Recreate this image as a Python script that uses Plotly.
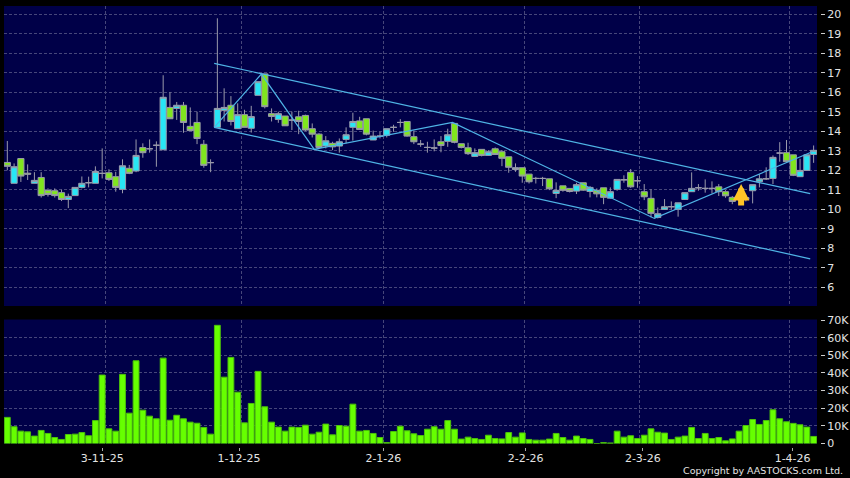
import plotly.graph_objects as go

sessions = list(range(120))
opens = [12.40,11.33,12.6,11.85,11.33,11.63,10.97,10.95,10.85,10.5,10.7,11.12,11.36,11.33,11.84,11.87,11.67,11.02,12.1,11.96,13.16,13.1,13.28,13.05,15.22,15.17,15.33,14.25,14.45,13.33,12.39,14.2,15.07,15.33,14.13,14.85,14.15,15.84,16.94,14.9,14.6,
 14.78,14.57,14.74,14.81,14.13,13.85,13.24,13.38,13.24,13.58,14.2,14.53,14.64,13.55,13.75,13.79,14.2,14.45,14.5,13.72,13.34,13.17,13.14,13.46,13.48,14.4,13.36,13.15,12.71,13.07,12.76,13.1,12.95,12.69,12.04,12.13,11.8,11.58,11.58,11.56,10.81,11.2,
 11.07,10.93,11.36,10.91,10.97,11.1,10.57,11.02,11.51,11.89,11.46,10.9,10.56,9.58,9.99,10.13,9.99,10.5,10.9,11.1,11.07,11.07,11.15,10.9,10.61,10.5,10.5,10.95,11.41,11.56,11.58,12.88,12.9,12.79,11.67,11.99,12.81]
closes = [12.2,12.18,11.7,11.8,11.48,10.7,10.76,10.7,10.5,10.66,11.12,11.33,11.36,11.94,11.84,11.53,11.12,12.23,11.84,12.76,12.9,13.1,13.28,15.74,14.64,15.33,14.45,14.03,13.63,12.25,12.39,15.17,15.22,14.5,14.85,14.2,14.75,16.54,15.26,14.76,14.9,
 14.28,14.57,14.5,14.06,13.85,13.17,13.51,13.2,13.46,13.82,14.5,14.09,13.85,13.75,13.75,14.13,14.2,14.45,13.75,13.46,13.34,13.17,13.14,13.27,13.82,13.43,13.17,12.85,12.9,12.76,12.95,12.81,12.61,12.15,12.13,11.7,11.41,11.58,11.58,11.05,10.97,10.97,
 10.91,11.26,10.98,11.12,10.79,10.61,10.9,11.53,11.51,11.15,11.46,10.64,9.79,9.77,10.13,10.13,10.33,10.85,11.07,11.1,11.07,11.07,10.9,10.69,10.4,10.5,10.6,11.26,11.56,11.56,12.66,12.88,12.44,11.74,11.99,12.79,13.02]
highs = [13.5,12.35,12.6,12.3,11.9,11.9,11.07,11.07,11.0,10.8,11.12,11.68,11.67,12.2,13.12,12.05,11.92,12.56,12.27,13.58,13.38,13.58,13.48,16.87,16.0,15.5,15.5,15.22,15.0,13.55,12.56,19.79,16.2,15.8,15.43,15.1,15.3,16.54,16.94,15.17,15.0,
 14.78,15.0,15.05,14.85,14.4,13.9,13.75,13.46,13.63,14.2,14.95,14.74,14.64,14.03,13.97,14.13,14.33,14.62,14.5,14.03,13.55,13.46,13.58,13.75,14.13,14.4,13.36,13.41,13.12,13.07,13.03,13.17,13.03,12.69,12.35,12.13,11.8,11.66,11.66,11.56,11.38,11.2,
 11.07,11.36,11.36,11.19,11.07,11.1,11.12,11.53,11.74,12.06,11.7,11.29,11.02,10.09,10.52,10.4,10.33,10.85,11.89,11.29,11.53,11.43,11.29,10.98,10.68,10.6,10.7,11.26,11.8,12.15,12.76,13.44,13.55,12.79,12.59,12.79,13.27]
lows = [12.0,11.33,11.4,11.5,11.33,10.6,10.65,10.6,10.42,10.06,10.7,11.07,11.12,11.33,11.58,11.45,10.9,10.82,11.8,11.9,12.64,12.9,12.18,13.05,14.64,14.58,13.92,14.03,13.34,12.13,11.9,14.2,14.5,14.3,14.13,14.2,13.93,15.84,15.17,14.5,14.43,
 14.28,14.06,13.85,14.0,13.68,13.12,13.12,13.03,12.9,13.38,13.52,14.09,13.79,13.55,13.63,13.68,13.97,14.2,13.72,13.34,13.2,12.9,12.97,12.92,13.2,13.38,13.12,12.78,12.69,12.71,12.74,12.78,12.21,11.87,11.92,11.36,11.32,11.32,11.19,10.98,10.57,10.9,
 10.86,10.78,10.95,10.61,10.61,10.26,10.54,10.95,11.36,11.1,11.1,10.47,9.58,9.53,9.99,9.99,9.62,10.5,10.9,10.95,10.85,10.81,10.68,10.59,10.26,10.4,10.4,10.3,11.12,11.5,11.29,12.44,12.38,11.7,11.67,11.99,12.38]
volumes = [14.8,9.5,7,6.6,4.2,7.4,5.7,3.4,2.3,5.1,5.3,6.2,4.4,13,38.8,8.3,7,39.2,17.2,46.9,18.9,15.5,14,48.4,13.2,16,14,12.1,11.5,9.1,5.3,67,37.6,48.8,29.1,11.7,22.7,40.9,20.8,12.1,9.3,
 7,9.3,9.1,10.4,5.3,6.4,11,4.9,10.2,9.8,22.3,7,7.4,5.7,3.4,0.5,6.8,9.8,7.2,5.5,4.5,8.1,9.5,8.1,13,8.1,2.5,3.6,2.8,2.3,4.7,2.8,2.6,6.2,3.6,6,2.3,1.9,1.9,2.5,5.7,3.4,
 1.9,4.2,2.8,2.3,0,0.5,0.3,7,3.6,4.4,2.8,4.7,8.3,6.4,5.9,2.3,3.6,4.2,9.1,2.8,5.7,2.8,3.4,1.5,2.6,7,10.2,13.6,10.8,13,19.1,14,12.3,11.4,10.6,9.3,4]

# Channel and zigzag drawn over the price panel: (session, price)
channel_upper_x = [30.53, 118.5]
channel_upper_y = [17.48, 10.8]
channel_lower_x = [30.53, 118.5]
channel_lower_y = [14.2, 7.46]
zigzag_x = [30.53, 37.5, 45.3, 65.7, 95.5, 118.8]
zigzag_y = [14.2, 16.93, 13.07, 14.45, 9.53, 12.95]

arrow_x = 108.3
arrow_y = 11.29

date_ticks = [14, 34.2, 55.5, 76.5, 93.8, 115.9]
date_labels = ["3-11-25", "1-12-25", "2-1-26", "2-2-26", "2-3-26", "1-4-26"]
date_grid = [14.5, 34.55, 55.46, 76.4, 93.36, 115.4]
price_ticks = list(range(6, 21))
vol_ticks = [0, 10, 20, 30, 40, 50, 60, 70]
vol_labels = ["0", "10K", "20K", "30K", "40K", "50K", "60K", "70K"]

BG = "#000000"
PANEL = "#000048"
GRID = "#46467a"
WICK = "#9a9aaa"
UP = "#28e6f5"
DOWN = "#80e61e"
TREND = "#4fb4e6"
TXT = "#e4e4e4"
DASH = "3px,2px"

fig = go.Figure()
fig.add_trace(go.Candlestick(
    x=sessions, open=opens, high=highs, low=lows, close=closes,
    xaxis="x", yaxis="y", whiskerwidth=0,
    increasing=dict(line=dict(color=WICK, width=1), fillcolor=UP),
    decreasing=dict(line=dict(color=WICK, width=1), fillcolor=DOWN),
    showlegend=False,
))
for xs, ys in [(channel_upper_x, channel_upper_y), (channel_lower_x, channel_lower_y), (zigzag_x, zigzag_y)]:
    fig.add_trace(go.Scatter(x=xs, y=ys, mode="lines", xaxis="x", yaxis="y",
                             line=dict(color=TREND, width=1.2), showlegend=False))
fig.add_trace(go.Bar(x=sessions, y=volumes, xaxis="x2", yaxis="y2",
                     marker=dict(color="#66ff00", line=dict(color="#4cc00a", width=1)),
                     showlegend=False))

xcommon = dict(range=[-0.49, 119.5], domain=[0, 813.5 / 816.5], showgrid=False, zeroline=False,
               showline=False,
               minor=dict(tickmode="array", tickvals=date_grid, showgrid=True, gridcolor=GRID,
                          griddash=DASH, gridwidth=1, ticks=""))
fig.update_layout(
    width=850, height=478,
    margin=dict(l=4, r=29.5, t=6, b=31, autoexpand=False),
    paper_bgcolor=BG, plot_bgcolor=PANEL,
    font=dict(family="DejaVu Sans", size=11, color=TXT),
    bargap=0.14,
    boxgap=0.06, boxgroupgap=0.03,
    showlegend=False,
    xaxis=dict(**xcommon, anchor="y", rangeslider=dict(visible=False),
               tickmode="array", tickvals=[], ticks=""),
    xaxis2=dict(**xcommon, anchor="free", position=0, matches="x",
                tickmode="array", tickvals=date_ticks, ticktext=date_labels,
                ticks="outside", ticklen=3, tickcolor="#aaaaaa", tickwidth=1,
                ticklabelstandoff=-2,
                tickfont=dict(size=11, color=TXT)),
    yaxis=dict(domain=[141 / 441, 1], range=[5.04, 20.42], anchor="free", position=1, side="right",
               tickmode="array", tickvals=price_ticks, ticks="outside", ticklen=4,
               tickcolor="#cccccc", tickwidth=1, zeroline=False, showline=False,
               showgrid=True, gridcolor=GRID, griddash=DASH, gridwidth=1,
               tickfont=dict(size=11, color=TXT)),
    yaxis2=dict(domain=[3.5 / 441, 127.5 / 441], range=[0, 70.3], anchor="free", position=1, side="right",
                tickmode="array", tickvals=vol_ticks, ticktext=vol_labels, ticks="outside", ticklen=4,
                tickcolor="#cccccc", tickwidth=1, zeroline=False, showline=False,
                showgrid=True, gridcolor=GRID, griddash=DASH, gridwidth=1,
                tickfont=dict(size=11, color=TXT)),
    annotations=[
        dict(x=arrow_x, y=arrow_y, xref="x", yref="y", ax=0, ay=23, axref="pixel", ayref="pixel",
             text="", showarrow=True, arrowhead=2, arrowsize=0.55, arrowwidth=6, arrowcolor="#ffc426",
             standoff=0),
        dict(x=(846 - 4) / 816.5, y=(447 - 478) / 441, xref="paper", yref="paper",
             xanchor="right", yanchor="bottom", text="Copyright by AASTOCKS.com Ltd.",
             showarrow=False, font=dict(size=9.5, color=TXT)),
    ],
)

fig.write_html("out.html", config=dict(displayModeBar=False),
               post_script="document.body.style.margin='0';document.body.style.background='#000';")
